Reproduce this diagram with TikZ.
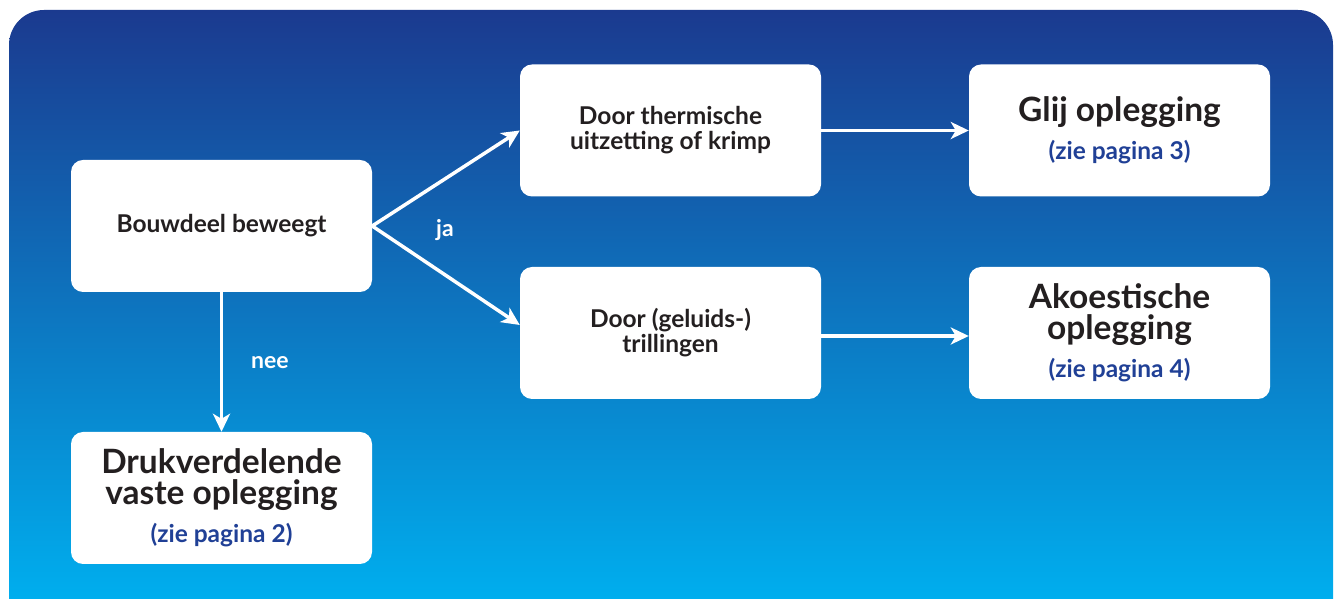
\documentclass[tikz,border=0pt]{standalone}
\usepackage{fontspec}
\setmainfont{Lato}
\usetikzlibrary{arrows.meta}
\definecolor{bgtop}{RGB}{27,58,143}
\definecolor{bgbot}{RGB}{0,174,238}
\definecolor{txt}{RGB}{35,31,32}
\definecolor{pblue}{RGB}{32,64,150}
\tikzset{
  box/.style={fill=white, rounded corners=12pt, minimum width=301pt, minimum height=132pt, align=center, inner sep=0pt, text=txt},
  smallbox/.style={box, font=\bfseries\fontsize{24.5}{25}\selectfont},
  bigbox/.style={box, font=\bfseries\fontsize{33.5}{31}\selectfont},
  arr/.style={draw=white, line width=3.5pt, -{Stealth[length=18pt,width=17pt,inset=5pt]}},
  lbl/.style={text=white, font=\bfseries\fontsize{23}{24}\selectfont}
}
\newcommand{\zie}[1]{\\[7pt]{\color{pblue}\fontsize{24.5}{24}\selectfont #1}}
\begin{document}
\begin{tikzpicture}[x=1pt,y=1pt]
\useasboundingbox (0,0) rectangle (1338,599);
\shade[top color=bgtop, bottom color=bgbot] (9,0) -- (9,554) arc(180:90:35) -- (1298,589) arc(90:0:35) -- (1333,0) -- cycle;
\node[smallbox] (A) at (221.5,373) {Bouwdeel beweegt};
\node[smallbox] (B) at (670.5,468.5) {Door thermische\\uitzetting of krimp};
\node[bigbox] (C) at (1119.5,468.5) {Glij oplegging\zie{(zie pagina 3)}};
\node[smallbox] (D) at (670.5,266) {Door (geluids-)\\trillingen};
\node[bigbox] (E) at (1119.5,266) {Akoestische\\oplegging\zie{(zie pagina 4)}};
\node[bigbox] (F) at (221.5,101) {Drukverdelende\\vaste oplegging\zie{(zie pagina 2)}};
\draw[arr] (A.east) -- (B.west);
\draw[arr] (A.east) -- ([yshift=8pt]D.west);
\draw[arr] (B.east) -- (C.west);
\draw[arr] ([yshift=-3pt]D.east) -- ([yshift=-3pt]E.west);
\draw[arr] (A.south) -- (F.north);
\node[lbl] (ja) at (445,369) {ja};
\node[lbl] (nee) at (270,236) {nee};
\end{tikzpicture}
\end{document}
